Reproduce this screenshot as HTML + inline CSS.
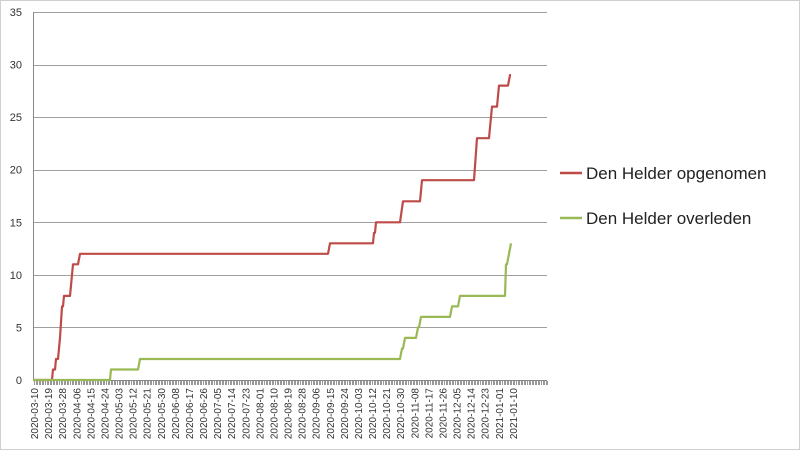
<!DOCTYPE html>
<html><head><meta charset="utf-8"><style>
html,body{margin:0;padding:0;background:#fff;}
svg{display:block;font-family:"Liberation Sans",Arial,sans-serif;}
</style></head><body>
<svg id="s" width="800" height="450" viewBox="0 0 800 450" xmlns="http://www.w3.org/2000/svg">
<rect x="0.5" y="0.5" width="799" height="449" fill="#fff" stroke="#d0d0d0"/>
<g id="grid" stroke="#a0a0a0" stroke-width="1"></g>
<line x1="33.5" y1="12" x2="33.5" y2="381" stroke="#888"/>
<line x1="33" y1="380.5" x2="547" y2="380.5" stroke="#888"/>
<g id="ticks" stroke="#999" stroke-width="1"></g>
<g id="ylab" font-size="11" fill="#333" text-anchor="end"></g>
<g id="xlab" font-size="10" fill="#333" text-anchor="end"></g>
<polyline fill="none" stroke="#be4b48" stroke-width="2.2" stroke-linejoin="round" id="red"/>
<polyline fill="none" stroke="#98b954" stroke-width="2.2" stroke-linejoin="round" id="green"/>
<line x1="560" y1="173" x2="582" y2="173" stroke="#be4b48" stroke-width="2.5"/>
<text x="586" y="179" font-size="17" fill="#222">Den Helder opgenomen</text>
<line x1="560" y1="218" x2="582" y2="218" stroke="#98b954" stroke-width="2.5"/>
<text x="586" y="224" font-size="17" fill="#222">Den Helder overleden</text>
</svg>
<script>
var NS="http://www.w3.org/2000/svg";
function y(v){return 380-v*10.514;}
function el(p,t,a,txt){var e=document.createElementNS(NS,t);for(var k in a)e.setAttribute(k,a[k]);if(txt)e.textContent=txt;document.getElementById(p).appendChild(e);}
for(var v=5;v<=35;v+=5){el("grid","line",{x1:33,x2:547,y1:Math.round(y(v))+0.5,y2:Math.round(y(v))+0.5});}
for(var v=0;v<=35;v+=5){el("ylab","text",{x:22,y:y(v)+4},String(v));}
var d0=new Date(Date.UTC(2020,2,10));
for(var d=0;d<=328;d++){var x=Math.round(34+d*1.565)+0.5;el("ticks","line",{x1:x,x2:x,y1:381,y2:385});}
for(var d=0;d<=306;d+=9){var dt=new Date(d0.getTime()+d*864e5);var s=dt.toISOString().slice(0,10);var x=34+d*1.565+4;
el("xlab","text",{x:0,y:0,transform:"translate("+x+",388) rotate(-90)"},s);}
function pts(a){return a.map(function(p){return p[0]+","+y(p[1]).toFixed(1)}).join(" ");}
document.getElementById("red").setAttribute("points",pts([[33,0],[52,0],[53,1],[55,1],[56,2],[58,2],[60,4],[62,7],[63,7],[64,8],[70,8],[72,10],[73,11],[78,11],[80,12],[328,12],[330,13],[373,13],[374,14],[375,14],[376,15],[400,15],[403,17],[420,17],[422,19],[474,19],[477,23],[489,23],[492,26],[496,26],[497,26],[499,28],[508,28],[510,29],[511,29]]));
document.getElementById("green").setAttribute("points",pts([[33,0],[110,0],[111,1],[138,1],[140,2],[400,2],[402,3],[403,3],[405,4],[416,4],[418,5],[419,5],[421,6],[450,6],[452,7],[458,7],[460,8],[505,8],[506,11],[507,11],[509,12],[511,13]]));
</script>
</body></html>
